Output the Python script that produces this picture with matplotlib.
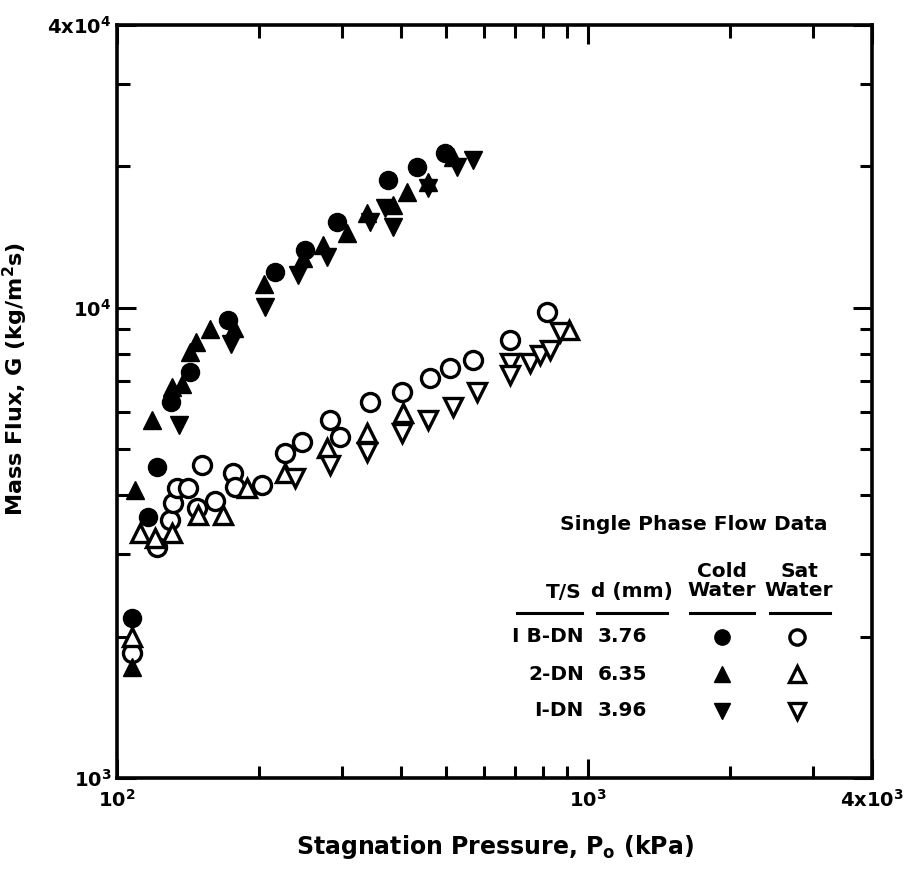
import matplotlib
matplotlib.use("Agg")
import matplotlib.pyplot as plt
from matplotlib.ticker import FixedLocator, NullFormatter

plt.rcParams['font.family'] = ['DejaVu Sans']
plt.rcParams['font.weight'] = 'bold'
plt.rcParams['axes.labelweight'] = 'bold'
plt.rcParams['mathtext.fontset'] = 'dejavusans'
plt.rcParams['mathtext.default'] = 'bf'

# cold water (filled markers)
cold_1b_p = [107.6, 116.4, 121.6, 130.2, 143.0, 172.0, 216.5, 250.7, 293.2, 376.2, 433.5, 497.0]
cold_1b_g = [2190, 3590, 4590, 6310, 7310, 9430, 11930, 13280, 15240, 18720, 19950, 21370]

cold_2_p = [107.6, 109.0, 118.7, 131.0, 137.5, 142.9, 147.2, 157.5, 177.0, 205.0,
            248.3, 273.8, 307.8, 339.5, 385.5, 412.8, 457.5, 516.9]
cold_2_g = [1722, 4100, 5780, 6800, 6900, 8050, 8470, 9000, 9070, 11250,
            12780, 13610, 14440, 15920, 16560, 17650, 18540, 20950]

cold_1_p = [135.4, 174.5, 206.0, 242.3, 279.2, 344.5, 370.7, 385.5, 457.5, 527.1, 570.0]
cold_1_g = [5640, 8380, 10050, 11750, 12840, 15240, 16320, 14870, 17990, 19950, 20640]

# saturated water (open markers)
sat_1b_p = [107.6, 121.6, 129.6, 131.5, 134.1, 141.5, 151.5, 147.9, 161.5, 176.3, 178.1,
            203.0, 227.4, 247.1, 283.3, 297.5, 344.5, 402.9, 462.0, 509.3, 570.0, 683.0, 818.5]
sat_1b_g = [1844, 3100, 3540, 3850, 4140, 4140, 4630, 3750, 3880, 4450, 4160,
            4200, 4910, 5190, 5780, 5310, 6310, 6630, 7100, 7450, 7750, 8550, 9800]

sat_2_p = [107.6, 111.9, 120.4, 130.9, 148.6, 167.9, 188.8, 227.4, 279.2, 339.5, 404.8, 909.0]
sat_2_g = [1995, 3320, 3240, 3320, 3630, 3630, 4140, 4450, 5040, 5420, 5980, 8980]

sat_1_p = [238.8, 283.3, 339.5, 402.9, 457.5, 516.9, 581.2, 683.0, 683.0, 753.2, 790.9, 830.6, 872.1]
sat_1_g = [4350, 4630, 4940, 5420, 5780, 6160, 6630, 7640, 7200, 7640, 7940, 8140, 8900]

legend_ts = ['I B-DN', '2-DN', 'I-DN']
legend_d = ['3.76', '6.35', '3.96']
legend_markers = ['o', '^', 'v']

fig = plt.figure(figsize=(9.09, 8.73), dpi=100)
ax = fig.add_axes([117 / 909, 1 - 778 / 873, 755 / 909, 753 / 873])
ax.set_xscale('log')
ax.set_yscale('log')
ax.set_xlim(100, 4000)
ax.set_ylim(1000, 40000)

ms = 13
open_kw = dict(ls='none', ms=ms, mfc='white', mec='black', mew=2.4)
fill_kw = dict(ls='none', ms=ms, color='black')

ax.plot(sat_1b_p, sat_1b_g, 'o', **open_kw)
ax.plot(sat_2_p, sat_2_g, '^', **open_kw)
ax.plot(sat_1_p, sat_1_g, 'v', **open_kw)
ax.plot(cold_1b_p, cold_1b_g, 'o', **fill_kw)
ax.plot(cold_2_p, cold_2_g, '^', **fill_kw)
ax.plot(cold_1_p, cold_1_g, 'v', **fill_kw)

# ticks
ax.xaxis.set_major_locator(FixedLocator([100, 1000, 4000]))
ax.set_xticklabels([r'$10^2$', r'$10^3$', r'$4x10^3$'])
ax.xaxis.set_minor_locator(FixedLocator([200, 300, 400, 500, 600, 700, 800, 900, 2000, 3000]))
ax.xaxis.set_minor_formatter(NullFormatter())
ax.yaxis.set_major_locator(FixedLocator([1000, 10000, 40000]))
ax.set_yticklabels([r'$10^3$', r'$10^4$', r'$4x10^4$'])
ax.yaxis.set_minor_locator(FixedLocator([2000, 3000, 4000, 5000, 6000, 7000, 8000, 9000, 20000, 30000]))
ax.yaxis.set_minor_formatter(NullFormatter())
ax.tick_params(which='both', direction='in', top=True, right=True, width=2.2, labelsize=14)
ax.tick_params(which='major', length=14)
ax.tick_params(which='minor', length=9)
ax.tick_params(axis='x', which='major', pad=8)
ax.tick_params(axis='y', which='major', pad=4)
for s in ax.spines.values():
    s.set_linewidth(2.6)

ax.set_xlabel(r'Stagnation Pressure, P$_o$ (kPa)', fontsize=17, labelpad=16)
ax.set_ylabel(r'Mass Flux, G (kg/m$^2$s)', fontsize=16, labelpad=8)
ax.yaxis.set_label_coords(-0.115, 0.53)

# legend table, in figure pixels
def fx(px):
    return px / 909

def fy(py):
    return 1 - py / 873

fs = 14.5
fig.text(fx(694), fy(525), 'Single Phase Flow Data', ha='center', va='center', fontsize=fs)
fig.text(fx(582), fy(592), 'T/S', ha='right', va='center', fontsize=fs)
fig.text(fx(632), fy(592), 'd (mm)', ha='center', va='center', fontsize=fs)
fig.text(fx(722), fy(581), 'Cold\nWater', ha='center', va='center', fontsize=fs, linespacing=1.0)
fig.text(fx(799), fy(581), 'Sat\nWater', ha='center', va='center', fontsize=fs, linespacing=1.0)
for x0, x1 in [(517, 582), (597, 667), (690, 754), (770, 830)]:
    fig.add_artist(plt.Line2D([fx(x0), fx(x1)], [fy(613), fy(613)], color='black', lw=2.2))

rows_y = [637, 674, 711]
for ts, d, m, ry in zip(legend_ts, legend_d, legend_markers, rows_y):
    fig.text(fx(584), fy(ry), ts, ha='right', va='center', fontsize=fs)
    fig.text(fx(598), fy(ry), d, ha='left', va='center', fontsize=fs)
    fig.add_artist(plt.Line2D([fx(722)], [fy(ry)], marker=m, ms=11, color='black', ls='none'))
    fig.add_artist(plt.Line2D([fx(797)], [fy(ry)], marker=m, ms=11, mfc='white', mec='black',
                              mew=2.4, ls='none'))

fig.savefig('out.png', dpi=100)
